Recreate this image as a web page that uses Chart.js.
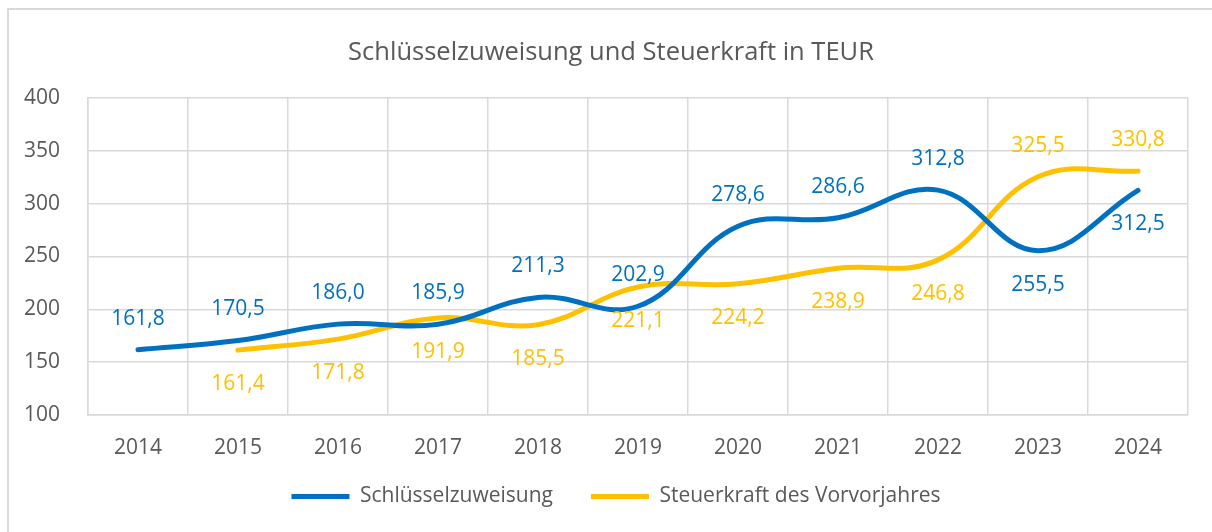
<!DOCTYPE html>
<html>
<head>
<meta charset="utf-8">
<title>Schlüsselzuweisung und Steuerkraft</title>
<script src="https://cdn.jsdelivr.net/npm/chart.js@4.4.1/dist/chart.umd.min.js"></script>
<style>
    html, body { margin: 0; padding: 0; background: #fff; }
    #wrap { width: 1212px; height: 532px; }
</style>
</head>
<body>
<div id="wrap"><canvas id="chart" width="1212" height="532"></canvas></div>
<script>
// Daten
const jahre = ["2014", "2015", "2016", "2017", "2018", "2019", "2020", "2021", "2022", "2023", "2024"];
const schluesselzuweisung = [161.8, 170.5, 186.0, 185.9, 211.3, 202.9, 278.6, 286.6, 312.8, 255.5, 312.5];
const steuerkraft = [null, 161.4, 171.8, 191.9, 185.5, 221.1, 224.2, 238.9, 246.8, 325.5, 330.8];
const yMin = 100;
const yMax = 400;
const yStep = 50;

// wo die Beschriftung steht (true = oberhalb der Linie)
const obenBlau = [true, true, true, true, true, true, true, true, true, false, false];
const obenGelb = [false, false, false, false, false, false, false, false, false, true, true];

const textGrau = "#595959";
const gitter = "#d9d9d9";
const schrift = "'Open Sans', 'Noto Sans', sans-serif";

const formatDE = (v) => v.toFixed(1).replace(".", ",");

// Rahmen um das ganze Diagramm
const rahmen = {
    id: "rahmen",
    beforeDraw(chart) {
        const ctx = chart.ctx;
        ctx.save();
        ctx.strokeStyle = gitter;
        ctx.lineWidth = 2;
        ctx.strokeRect(8, 9, chart.width + 20, chart.height + 20);
        ctx.restore();
    },
};

// Legende und Titel etwas verschieben
const verschieben = {
    id: "verschieben",
    afterLayout(chart) {
        const lg = chart.legend;
        const h = lg.bottom - lg.top;
        lg.top = 448;
        lg.bottom = lg.top + h;
        lg.left += 22;
        lg.right += 22;
        const t = chart.titleBlock;
        t.left += 17;
        t.right += 17;
    },
};

// Datenbeschriftungen
const werte = {
    id: "werte",
    afterDatasetsDraw(chart) {
        const ctx = chart.ctx;
        ctx.save();
        ctx.font = "21px " + schrift;
        ctx.textAlign = "center";
        ctx.textBaseline = "middle";
        chart.data.datasets.forEach((ds, i) => {
            const meta = chart.getDatasetMeta(i);
            ctx.fillStyle = ds.borderColor;
            meta.data.forEach((pt, j) => {
                const v = ds.data[j];
                if (v === null || v === undefined) return;
                const dy = ds.oben[j] ? -31 : 34;
                ctx.fillText(formatDE(v), pt.x, pt.y + dy);
            });
        });
        ctx.restore();
    },
};

const ctx = document.getElementById("chart").getContext("2d");
new Chart(ctx, {
    type: "line",
    data: {
        labels: jahre,
        datasets: [
            {
                label: "Schlüsselzuweisung",
                data: schluesselzuweisung,
                oben: obenBlau,
                borderColor: "#0070C0",
                backgroundColor: "#0070C0",
                borderWidth: 5,
                borderCapStyle: "round",
                tension: 0.4,
                pointRadius: 0,
                pointHoverRadius: 0,
            },
            {
                label: "Steuerkraft des Vorvorjahres",
                data: steuerkraft,
                oben: obenGelb,
                borderColor: "#FFC000",
                backgroundColor: "#FFC000",
                borderWidth: 5,
                borderCapStyle: "round",
                tension: 0.4,
                pointRadius: 0,
                pointHoverRadius: 0,
            },
        ],
    },
    options: {
        responsive: false,
        animation: false,
        devicePixelRatio: 1,
        layout: { padding: { left: 0, right: 24, top: 0, bottom: 0 } },
        plugins: {
            title: {
                display: true,
                text: "Schlüsselzuweisung und Steuerkraft in TEUR",
                color: textGrau,
                font: { family: schrift, size: 25.5, weight: "normal" },
                padding: { top: 37, bottom: 30.4 },
            },
            legend: {
                position: "bottom",
                labels: {
                    color: textGrau,
                    font: { family: schrift, size: 21 },
                    usePointStyle: true,
                    pointStyle: "line",
                    pointStyleWidth: 58,
                    padding: 38,
                },
            },
            tooltip: { enabled: false },
        },
        scales: {
            x: {
                offset: true,
                grid: { color: gitter, lineWidth: 1.5, offset: true, drawTicks: false },
                border: { color: gitter, width: 1.5 },
                ticks: { color: textGrau, font: { family: schrift, size: 21 }, padding: 20 },
                afterFit(scale) { scale.height = 48; },
            },
            y: {
                min: yMin,
                max: yMax,
                grid: { color: gitter, lineWidth: 1.5, drawTicks: false },
                border: { color: gitter, width: 1.5 },
                ticks: {
                    stepSize: yStep,
                    color: textGrau,
                    font: { family: schrift, size: 21 },
                    padding: 28,
                },
                afterFit(scale) { scale.width = 88; },
            },
        },
    },
    plugins: [rahmen, verschieben, werte],
});
</script>
</body>
</html>
